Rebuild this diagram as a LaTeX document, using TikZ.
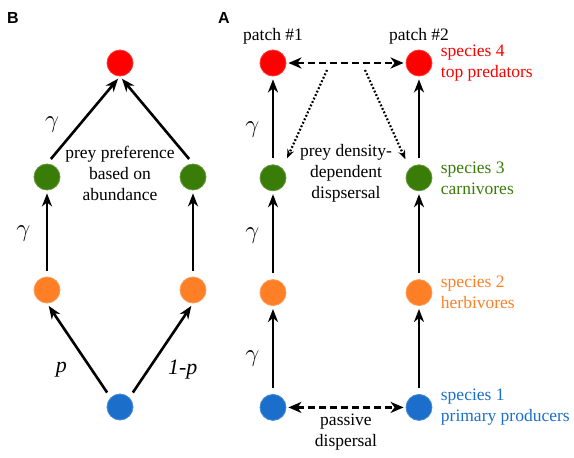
\documentclass[tikz,border=0pt]{standalone}
\usepackage{fontspec}
\setmainfont{Liberation Serif}
\setsansfont{Liberation Sans}
\usepackage{tikz}
\usetikzlibrary{arrows.meta, positioning, calc}
\definecolor{spred}{RGB}{255,0,0}
\definecolor{spgreen}{RGB}{58,124,8}
\definecolor{sporange}{RGB}{255,127,39}
\definecolor{spblue}{RGB}{27,111,203}

\begin{document}
\begin{tikzpicture}[x=1pt, y=-1pt,
    sp/.style={circle, inner sep=0pt, minimum size=26pt, fill=#1,
        draw=#1!80!white, line width=0.8pt},
    arrow/.style={-{Stealth[length=13pt, width=10pt, inset=4pt]},
        line width=2.6pt, shorten >=3pt, shorten <=6pt},
    dasharrow/.style={{Stealth[length=13pt, width=11pt, inset=4pt]}-{Stealth[length=13pt, width=11pt, inset=4pt]},
        line width=2.4pt, dash pattern=on 7pt off 4pt, shorten >=2pt, shorten <=2pt},
    dotarrow/.style={-{Stealth[length=9pt, width=7pt, inset=3pt]},
        line width=2.2pt, dash pattern=on 1.8pt off 2pt},
    lbl/.style={font=\fontsize{17.5}{21}\selectfont, align=center},
    gam/.style={font=\fontsize{24}{24}\selectfont},
    prob/.style={font=\fontsize{22}{22}\selectfont},
    panel/.style={font=\sffamily\bfseries\fontsize{16}{16}\selectfont}
]
\useasboundingbox (0,0) rectangle (574,458);

% panel letters
\node[panel] (labB) at (13,18) {B};
\node[panel] (labA) at (224,18) {A};

% panel B: one patch, prey preference
\node[sp=spred]    (predB)  at (120,63)  {};
\node[sp=spgreen]  (carnBl) at (47,177)  {};
\node[sp=spgreen]  (carnBr) at (193,177) {};
\node[sp=sporange] (herbBl) at (47,290)  {};
\node[sp=sporange] (herbBr) at (193,290) {};
\node[sp=spblue]   (prodB)  at (120,407) {};

\draw[arrow] (carnBl.north) -- node[gam, pos=0.45, left=16pt] {$\gamma$} (predB.south);
\draw[arrow] (carnBr.north) -- (predB.south);
\draw[arrow] (herbBl) -- node[gam, left=12pt] {$\gamma$} (carnBl);
\draw[arrow] (herbBr) -- (carnBr);
\draw[arrow] (prodB.north west) -- node[prob, pos=0.3, left=20pt] {\textit{p}} (herbBl.south);
\draw[arrow] (prodB.north east) -- node[prob, pos=0.3, right=15pt] {\textit{1-p}} (herbBr.south);

\node[lbl] (prefB) at (120,173) {prey preference\\based on\\abundance};

% panel A: two patches
\node[sp=spred]    (pred1) at (273,63) {};
\node[sp=spgreen]  (carn1) [below=88pt of pred1] {};
\node[sp=sporange] (herb1) [below=88pt of carn1] {};
\node[sp=spblue]   (prod1) [below=88pt of herb1] {};
\node[sp=spred]    (pred2) at (419,63) {};
\node[sp=spgreen]  (carn2) [below=88pt of pred2] {};
\node[sp=sporange] (herb2) [below=88pt of carn2] {};
\node[sp=spblue]   (prod2) [below=88pt of herb2] {};

\node[lbl, above=2pt of pred1] (patch1) {patch \#1};
\node[lbl, above=2pt of pred2] (patch2) {patch \#2};

\draw[arrow] (carn1) -- node[gam, pos=0.4, left=9pt] {$\gamma$} (pred1);
\draw[arrow] (herb1) -- node[gam, left=9pt] {$\gamma$} (carn1);
\draw[arrow] (prod1) -- node[gam, pos=0.4, left=9pt] {$\gamma$} (herb1);
\draw[arrow] (carn2) -- (pred2);
\draw[arrow] (herb2) -- (carn2);
\draw[arrow] (prod2) -- (herb2);

\draw[dasharrow] (pred1) -- (pred2);
\coordinate (dl) at ($(pred1)!0.37!(pred2)+(0,7)$);
\coordinate (dr) at ($(pred1)!0.63!(pred2)+(0,7)$);
\draw[dotarrow, shorten >=11pt] (dl) -- (carn1.north east);
\draw[dotarrow, shorten >=10pt] (dr) -- (carn2.north west);

\draw[dasharrow] (prod1) -- node[lbl, below=2pt] {passive\\dispersal} (prod2);

\node[lbl] (dispA) at (346,173) {prey density-\\dependent\\dispsersal};

% species names
\node[lbl, align=left, text=spred, right=5pt of pred2]    (sp4) {species 4\\top predators};
\node[lbl, align=left, text=spgreen, right=5pt of carn2]  (sp3) {species 3\\carnivores};
\node[lbl, align=left, text=sporange, right=5pt of herb2] (sp2) {species 2\\herbivores};
\node[lbl, align=left, text=spblue, right=5pt of prod2]   (sp1) {species 1\\primary producers};
\end{tikzpicture}
\end{document}
